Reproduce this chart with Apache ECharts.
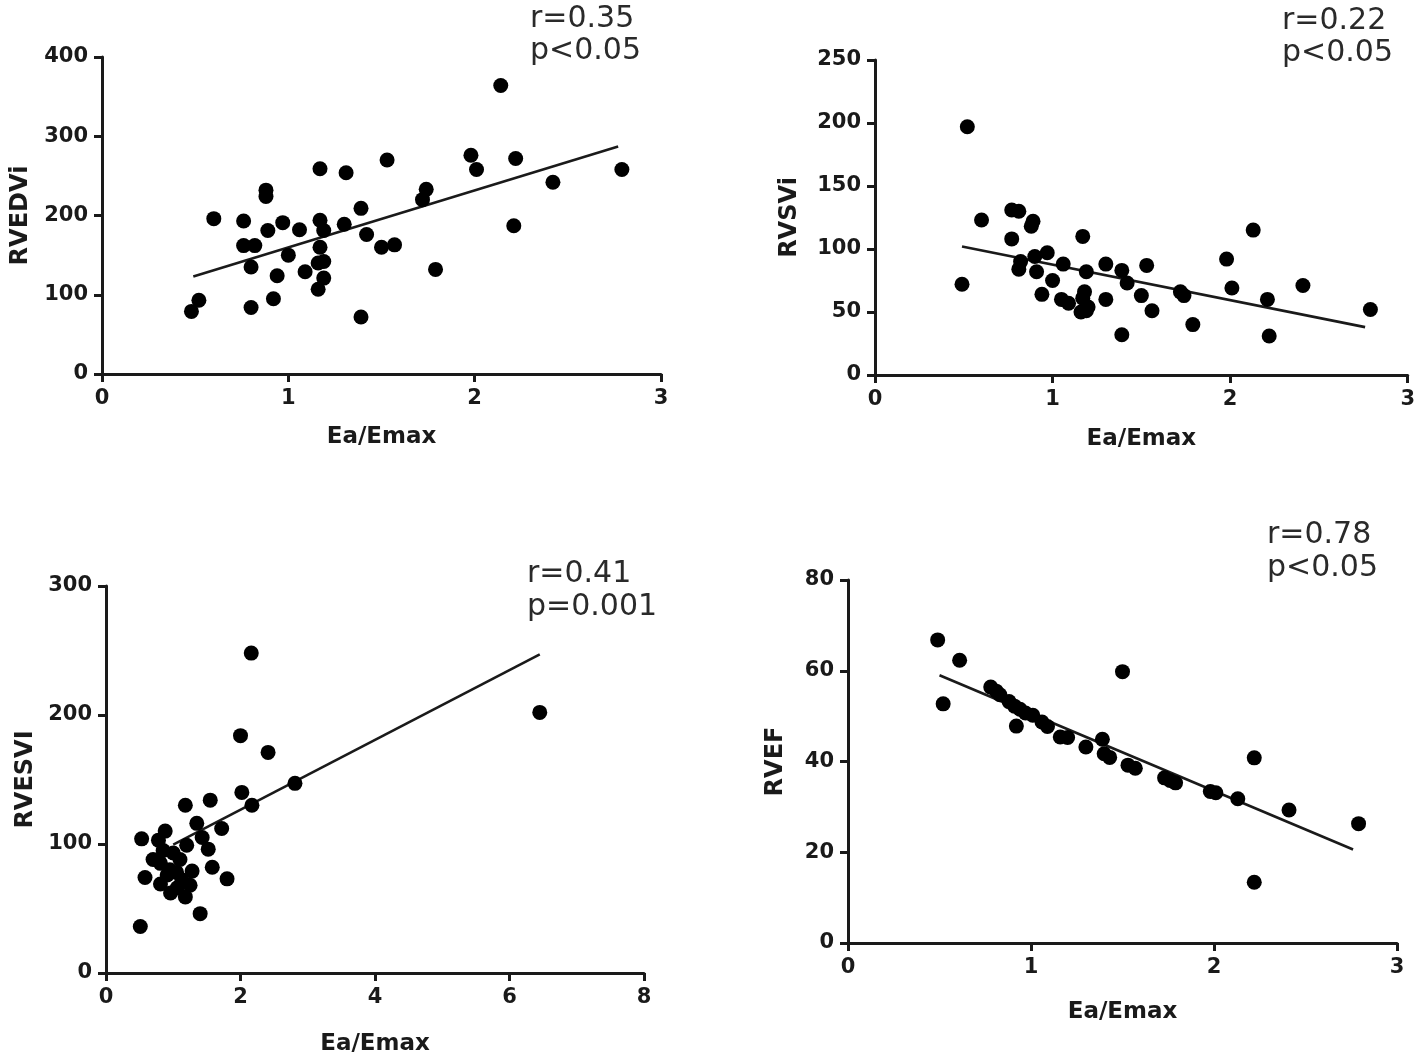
<!DOCTYPE html>
<html>
<head>
<meta charset="utf-8">
<script src="https://cdn.jsdelivr.net/npm/echarts@6/dist/echarts.min.js"></script>
<style>
html,body{margin:0;padding:0;background:#fff;}
#chart{width:1418px;height:1061px;}
</style>
</head>
<body>
<div id="chart"></div>
<script>
// ---- Data ----
var xName = 'Ea/Emax';
var yNames = ['RVEDVi', 'RVSVi', 'RVESVI', 'RVEF'];
var statsR = ['r=0.35', 'r=0.22', 'r=0.41', 'r=0.78'];
var statsP = ['p<0.05', 'p<0.05', 'p=0.001', 'p<0.05'];

// Panel 1: RVEDVi
var p1X = [0.48,0.52,0.60,0.76,0.76,0.82,0.80,0.80,0.88,0.88,0.89,0.97,0.94,0.92,1.00,1.06,1.09,1.17,1.17,1.19,1.17,1.16,1.19,1.19,1.16,1.31,1.30,1.39,1.42,1.39,1.53,1.50,1.57,1.74,1.72,1.79,1.98,2.01,2.14,2.22,2.21,2.42,2.79];
var p1Y = [79,93,196,193,162,162,135,84,232,224,181,191,124,95,150,182,129,259,194,181,160,140,142,121,107,254,189,209,176,72,270,160,163,233,220,132,276,258,364,272,187,242,258];
var p1FitX = [0.49, 2.77];
var p1FitY = [123, 287];

// Panel 2: RVSVi
var p2X = [0.52,0.49,0.60,0.77,0.81,0.77,0.89,0.88,0.82,0.81,0.90,0.97,0.91,0.94,1.00,1.06,1.05,1.09,1.17,1.19,1.18,1.17,1.20,1.16,1.19,1.30,1.30,1.39,1.42,1.39,1.50,1.53,1.56,1.72,1.74,1.79,1.98,2.01,2.13,2.21,2.22,2.41,2.79];
var p2Y = [197,72,123,131,130,108,122,118,90,84,94,97,82,64,75,88,60,57,110,82,66,61,54,50,51,88,60,83,73,32,63,87,51,66,63,40,92,69,115,60,31,71,52];
var p2FitX = [0.49, 2.76];
var p2FitY = [102, 38];

// Panel 3: RVESVI
var p3X = [0.51,0.53,0.58,0.78,0.88,0.81,0.81,0.91,0.96,1.00,1.06,1.13,1.18,1.20,1.18,1.28,1.35,1.43,1.40,1.52,1.55,1.58,1.72,1.80,2.00,2.02,2.17,2.16,2.41,2.81,6.45,0.95,1.10,1.25,0.85,1.05,0.70];
var p3Y = [36,104,74,103,110,85,69,76,62,93,66,72,59,99,130,79,116,105,46,96,134,82,112,73,184,140,130,248,171,147,202,80,88,68,95,78,88];
var p3FitX = [1.0, 6.45];
var p3FitY = [99.5, 247];

// Panel 4: RVEF
var p4X = [0.49,0.52,0.61,0.78,0.81,0.83,0.88,0.91,0.94,0.92,0.97,1.01,1.06,1.09,1.16,1.20,1.30,1.39,1.40,1.43,1.50,1.53,1.57,1.73,1.76,1.79,1.98,2.01,2.13,2.22,2.22,2.41,2.79];
var p4Y = [66.8,52.7,62.3,56.4,55.5,54.7,53.2,52.2,51.5,47.8,50.7,50.2,48.7,47.7,45.4,45.3,43.2,44.9,41.7,40.9,59.8,39.2,38.5,36.4,35.8,35.3,33.4,33.1,31.8,40.8,13.4,29.3,26.3];
var p4FitX = [0.5, 2.76];
var p4FitY = [59, 20.6];

var xMax = [3, 3, 8, 3];
var xInterval = [1, 1, 2, 1];
var yMax = [400, 250, 300, 80];
var yInterval = [100, 50, 100, 20];

// ---- Layout ----
var grids = [
  {left: 102, top: 57, width: 559, height: 317},
  {left: 875, top: 60, width: 533, height: 315},
  {left: 106, top: 586, width: 538, height: 387},
  {left: 848, top: 580, width: 549, height: 363}
];
var xNameGap = [52, 53, 60, 58];
var yNameGap = [69, 73, 68, 60];
var statPos = [
  {x: 530, y1: 19, y2: 51},
  {x: 1282, y1: 21, y2: 53},
  {x: 527, y1: 574, y2: 607},
  {x: 1267, y1: 535, y2: 568}
];

var ink = '#1a1a1a';
var FONT = 'DejaVu Sans';

function zip(a, b) { return a.map(function (v, i) { return [v, b[i]]; }); }
var pts = [zip(p1X, p1Y), zip(p2X, p2Y), zip(p3X, p3Y), zip(p4X, p4Y)];
var fits = [zip(p1FitX, p1FitY), zip(p2FitX, p2FitY), zip(p3FitX, p3FitY), zip(p4FitX, p4FitY)];

var axisCommon = function () {
  return {
    type: 'value',
    axisLine: {show: true, onZero: false, lineStyle: {color: ink, width: 3}},
    axisTick: {show: true, length: 8, lineStyle: {color: ink, width: 3}},
    axisLabel: {margin: 14, fontFamily: FONT, fontWeight: 'bold', fontSize: 21, color: ink},
    splitLine: {show: false},
    nameLocation: 'middle',
    nameTextStyle: {fontFamily: FONT, fontWeight: 'bold', fontSize: 23, color: ink}
  };
};

var xAxes = [], yAxes = [], series = [], graphics = [];
for (var i = 0; i < 4; i++) {
  var xa = axisCommon();
  xa.gridIndex = i; xa.min = 0; xa.max = xMax[i]; xa.interval = xInterval[i];
  xa.name = xName; xa.nameGap = xNameGap[i];
  xAxes.push(xa);
  var ya = axisCommon();
  ya.gridIndex = i; ya.min = 0; ya.max = yMax[i]; ya.interval = yInterval[i];
  ya.name = yNames[i]; ya.nameGap = yNameGap[i];
  ya.nameTextStyle = Object.assign({}, ya.nameTextStyle, {fontSize: 24});
  yAxes.push(ya);
  series.push({
    type: 'line', xAxisIndex: i, yAxisIndex: i, data: fits[i],
    symbol: 'none', lineStyle: {color: ink, width: 2.6}, silent: true, z: 2, animation: false
  });
  series.push({
    type: 'scatter', xAxisIndex: i, yAxisIndex: i, data: pts[i],
    symbol: 'circle', symbolSize: 15, itemStyle: {color: '#000', opacity: 1}, z: 3, animation: false
  });
  graphics.push({
    type: 'text', left: statPos[i].x, top: statPos[i].y1 - 15,
    style: {text: statsR[i], font: '30px "DejaVu Sans"', fill: '#2a2a2a'}
  });
  graphics.push({
    type: 'text', left: statPos[i].x, top: statPos[i].y2 - 15,
    style: {text: statsP[i], font: '30px "DejaVu Sans"', fill: '#2a2a2a'}
  });
}

var chart = echarts.init(document.getElementById('chart'), null, {renderer: 'canvas'});
chart.setOption({
  backgroundColor: '#fff',
  animation: false,
  grid: grids,
  xAxis: xAxes,
  yAxis: yAxes,
  series: series,
  graphic: graphics
});
</script>
</body>
</html>
